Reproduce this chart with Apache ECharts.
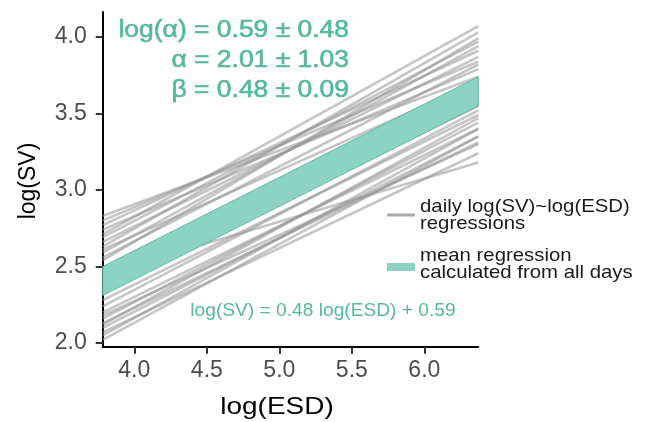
<!DOCTYPE html>
<html>
<head>
<meta charset="utf-8">
<script src="https://cdn.jsdelivr.net/npm/echarts@6/dist/echarts.min.js"></script>
<style>html,body{margin:0;padding:0;background:#fff}#c{width:648px;height:422px}</style>
</head>
<body>
<div id="c"></div>
<script>
// x range of the regression lines
var xEnds = [3.782, 6.372];
// daily regressions: value at left end, value at right end
var lineLeft  = [2.83, 2.80, 2.77, 2.74, 2.71, 2.69, 2.66, 2.63, 2.61, 2.59, 2.56, 2.54, 2.45, 2.40, 2.35, 2.28, 2.24, 2.20, 2.18, 2.16, 2.13, 2.12, 2.10, 2.07, 2.05, 2.02];
var lineRight = [3.74, 3.84, 3.91, 3.79, 4.07, 3.97, 3.87, 4.03, 3.71, 3.94, 3.82, 3.99, 3.18, 3.65, 3.55, 3.49, 3.52, 3.40, 3.30, 3.44, 3.31, 3.47, 3.35, 3.24, 3.40, 3.35];
// mean regression band
var bandLow  = [2.31, 3.55];
var bandHigh = [2.50, 3.74];
var xTicks = [4.0, 4.5, 5.0, 5.5, 6.0];
var yTicks = [2.0, 2.5, 3.0, 3.5, 4.0];

var teal = '#56b89e';
var font = 'Liberation Sans';
var series = [];
for (var i = 0; i < lineLeft.length; i++) {
  series.push({
    type: 'line', symbol: 'none', silent: true, z: 2,
    lineStyle: {color: 'rgba(150,150,150,0.55)', width: 2.6},
    data: [[xEnds[0], lineLeft[i]], [xEnds[1], lineRight[i]]]
  });
}
var bandData = [];
for (var j = 0; j < xEnds.length; j++) bandData.push([xEnds[j], bandLow[j], bandHigh[j]]);
series.push({
  type: 'custom', z: 5, silent: true,
  data: bandData,
  renderItem: function (params, api) {
    if (params.dataIndex !== 0) return;
    var pts = [];
    for (var k = 0; k < bandData.length; k++) pts.push(api.coord([bandData[k][0], bandData[k][2]]));
    for (var k2 = bandData.length - 1; k2 >= 0; k2--) pts.push(api.coord([bandData[k2][0], bandData[k2][1]]));
    return {type: 'polygon', shape: {points: pts}, style: {fill: '#8dd3c4', stroke: '#4fae97', lineWidth: 0.8}};
  }
});

function txt(x, y, s, f, opts) {
  var o = {type: 'text', x: x, y: y, style: {text: s, font: f, fill: opts.fill || '#1a1a1a', align: opts.align || 'left', verticalAlign: 'middle'}};
  if (opts.stroke) { o.style.stroke = opts.stroke; o.style.lineWidth = opts.lineWidth; }
  if (opts.scaleX) o.scaleX = opts.scaleX;
  if (opts.rotation) o.rotation = opts.rotation;
  return o;
}
var tealOpts = {fill: teal, align: 'right', scaleX: 1.15, stroke: teal, lineWidth: 0.6};

var chart = echarts.init(document.getElementById('c'), null, {renderer: 'canvas'});
chart.setOption({
  animation: false,
  grid: {left: 102.7, right: 169.7, top: 12, bottom: 75.3, containLabel: false},
  xAxis: {
    type: 'value', min: 3.782, max: 6.372,
    splitLine: {show: false},
    axisLine: {lineStyle: {color: '#000', width: 2}},
    axisTick: {show: true, length: 7, lineStyle: {color: '#333', width: 2}, customValues: xTicks},
    axisLabel: {customValues: xTicks, color: '#4d4d4d', fontSize: 23, fontFamily: font, margin: 12,
      formatter: function (v) { return v.toFixed(1); }}
  },
  yAxis: {
    type: 'value', min: 1.976, max: 4.163,
    splitLine: {show: false},
    axisLine: {show: true, lineStyle: {color: '#000', width: 2}},
    axisTick: {show: true, length: 7, lineStyle: {color: '#333', width: 2}, customValues: yTicks},
    axisLabel: {customValues: yTicks, color: '#4d4d4d', fontSize: 23, fontFamily: font, margin: 16,
      formatter: function (v) { return v.toFixed(1); }}
  },
  series: series,
  graphic: [
    txt(277, 407, 'log(ESD)', '24px ' + font, {fill: '#000', align: 'center', scaleX: 1.165}),
    txt(29, 181, 'log(SV)', '23px ' + font, {fill: '#000', align: 'center', rotation: Math.PI / 2}),
    txt(349, 31, 'log(α) = 0.59 ± 0.48', '23px ' + font, tealOpts),
    txt(349, 61, 'α = 2.01 ± 1.03', '23px ' + font, tealOpts),
    txt(349, 91, 'β = 0.48 ± 0.09', '23px ' + font, tealOpts),
    txt(323, 311.5, 'log(SV) = 0.48 log(ESD) + 0.59', '18px ' + font, {fill: teal, align: 'center', scaleX: 1.065}),
    {type: 'line', shape: {x1: 387, y1: 215, x2: 415, y2: 215}, style: {stroke: '#a9a9a9', lineWidth: 3}},
    txt(420, 206.5, 'daily log(SV)~log(ESD)', '18.5px ' + font, {scaleX: 1.1}),
    txt(420, 223.5, 'regressions', '18.5px ' + font, {scaleX: 1.1}),
    {type: 'rect', shape: {x: 387, y: 263, width: 28, height: 8}, style: {fill: '#8dd3c4'}},
    txt(420, 256, 'mean regression', '18.5px ' + font, {scaleX: 1.1}),
    txt(420, 272.5, 'calculated from all days', '18.5px ' + font, {scaleX: 1.1})
  ]
});
</script>
</body>
</html>
